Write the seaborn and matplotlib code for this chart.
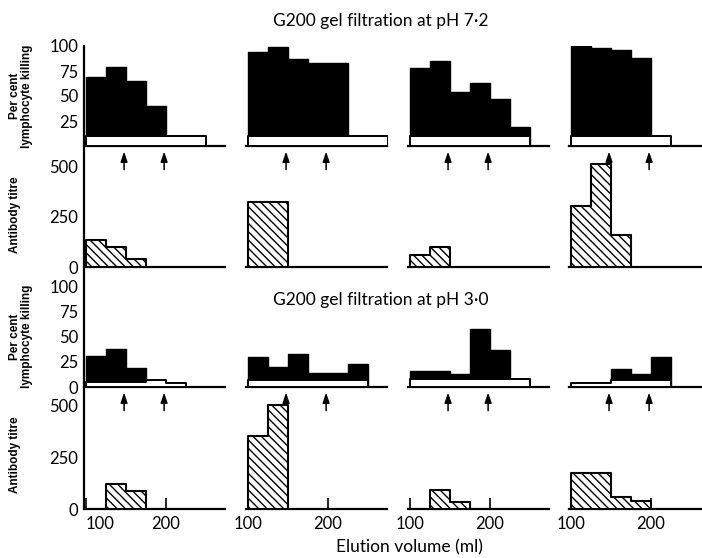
import numpy as np
import pandas as pd
import matplotlib
matplotlib.use('Agg')
import matplotlib.pyplot as plt
import seaborn as sns
from matplotlib.lines import Line2D

# 25 ml fractions, lower edge of each (ml)
fraction_start = [100, 125, 150, 175, 200, 225, 250]
fraction_width = 25

# pH 7.2 - per cent lymphocyte killing (black = total, white = base bar)
kill_72_black = [
    [69, 79, 65, 40, 0, 0, 0],
    [94, 99, 87, 83, 83, 0, 0],
    [78, 85, 54, 63, 47, 19, 0],
    [100, 98, 96, 88, 0, 0, 0],
]
kill_72_white = [
    [10, 10, 10, 10, 10, 10, 0],
    [10, 10, 10, 10, 10, 10, 10],
    [10, 10, 10, 10, 10, 10, 0],
    [10, 10, 10, 10, 10, 0, 0],
]
# pH 7.2 - antibody titre
titre_72 = [
    [135, 100, 40, 0, 0, 0, 0],
    [320, 320, 0, 0, 0, 0, 0],
    [60, 100, 0, 0, 0, 0, 0],
    [300, 510, 160, 0, 0, 0, 0],
]
# pH 3.0 - per cent lymphocyte killing
kill_30_black = [
    [31, 38, 19, 0, 0, 0, 0],
    [30, 20, 33, 14, 14, 23, 0],
    [16, 16, 13, 57, 37, 0, 0],
    [0, 0, 18, 13, 30, 0, 0],
]
kill_30_white = [
    [5, 5, 5, 7, 4, 0, 0],
    [7, 7, 7, 7, 7, 7, 0],
    [8, 8, 8, 8, 8, 8, 0],
    [4, 4, 7, 7, 7, 0, 0],
]
# pH 3.0 - antibody titre
titre_30 = [
    [0, 120, 87, 0, 0, 0, 0],
    [350, 500, 0, 0, 0, 0, 0],
    [0, 90, 35, 0, 0, 0, 0],
    [175, 175, 60, 40, 0, 0, 0],
]

arrow_ml = [148, 198]
x_ticks = [100, 200]
kill_ticks_72 = [25, 50, 75, 100]
kill_ticks_30 = [0, 25, 50, 75, 100]
titre_ticks = [0, 250, 500]

title_72 = 'G200 gel filtration at pH 7\u00b72'
title_30 = 'G200 gel filtration at pH 3\u00b70'
kill_label = 'Per cent\nlymphocyte killing'
titre_label = 'Antibody titre'
x_label = 'Elution volume (ml)'

# layout in pixels of the 702 x 558 figure
W, H = 702, 558
col_left = [84, 246, 408, 569]
col_width = 141
row_px = [(46, 146), (162, 267), (286, 387), (401, 509)]


def draw_hist(ax, values, **kws):
    values = np.asarray(values, dtype=float)
    starts = np.asarray(fraction_start, dtype=float)
    keep = values > 0
    if not keep.any():
        return
    lo = starts[keep].min()
    hi = starts[keep].max() + fraction_width
    df = pd.DataFrame({'ml': starts[keep] + fraction_width / 2, 'value': values[keep]})
    sns.histplot(data=df, x='ml', weights='value', binwidth=fraction_width,
                 binrange=(lo, hi), element='step', fill=True, alpha=1, ax=ax, **kws)


def main():
    sns.set_theme(style='white')
    plt.rcParams['font.family'] = ['Lato', 'DejaVu Sans']
    plt.rcParams['text.color'] = 'black'
    plt.rcParams['hatch.linewidth'] = 1.0

    fig = plt.figure(figsize=(W / 100, H / 100), dpi=100)

    axes = []
    for r, (top, bottom) in enumerate(row_px):
        row_axes = []
        for c, left in enumerate(col_left):
            ax = fig.add_axes([left / W, 1 - bottom / H, col_width / W, (bottom - top) / H])
            ax.set_facecolor('none')
            if r in (0, 2):
                black = kill_72_black if r == 0 else kill_30_black
                white = kill_72_white if r == 0 else kill_30_white
                draw_hist(ax, black[c], facecolor='black', edgecolor='black',
                          linewidth=1.0, zorder=2)
                draw_hist(ax, white[c], facecolor='white', edgecolor='black',
                          linewidth=1.4, zorder=3)
                ax.set_ylim(0, 100)
                ax.set_yticks(kill_ticks_72 if r == 0 else kill_ticks_30)
                for xm in arrow_ml:
                    ax.annotate('', xy=(xm, 0), xycoords=('data', 'axes fraction'),
                                xytext=(0, -17), textcoords='offset points',
                                arrowprops=dict(arrowstyle='-|>,head_length=0.5,head_width=0.17',
                                                color='black', lw=1.1,
                                                shrinkA=0, shrinkB=4),
                                annotation_clip=False)
            else:
                titre = titre_72 if r == 1 else titre_30
                draw_hist(ax, titre[c], facecolor='white', edgecolor='black',
                          hatch='\\\\\\\\', linewidth=1.5, zorder=3)
                ax.set_ylim(0, 520)
                ax.set_yticks(titre_ticks)

            ax.set_xlim(98, 274)
            ax.set_xlabel('')
            ax.set_ylabel('')
            for side in ('top', 'right', 'left'):
                ax.spines[side].set_visible(False)
            ax.spines['bottom'].set_linewidth(1.6)
            ax.spines['bottom'].set_color('black')

            if c == 0:
                ax.tick_params(axis='y', direction='in', length=9, width=1.2,
                               pad=4, labelsize=12, colors='black')
            else:
                ax.tick_params(axis='y', left=False, labelleft=False)

            if r == 3:
                ax.set_xticks(x_ticks)
                ax.tick_params(axis='x', direction='in', length=8, width=1.2,
                               pad=5, labelsize=12, colors='black', bottom=True)
                if c == 0:
                    # keep "100" clear of the titre "0"
                    ax.get_xticklabels()[0].set_horizontalalignment('left')
            else:
                ax.set_xticks([])
            row_axes.append(ax)
        axes.append(row_axes)

    # continuous left axis line for the first column
    p_top = axes[0][0].get_position()
    p_bot = axes[3][0].get_position()
    fig.add_artist(Line2D([p_top.x0, p_top.x0], [p_bot.y0, p_top.y1],
                          transform=fig.transFigure, color='black', lw=1.6))

    # row labels
    for r, label in enumerate([kill_label, titre_label, kill_label, titre_label]):
        pos = axes[r][0].get_position()
        x = 21 / W if r in (0, 2) else 15 / W
        fig.text(x, (pos.y0 + pos.y1) / 2, label, rotation=90, ha='center',
                 va='center', multialignment='center', fontsize=8.5,
                 fontweight='bold', family=['Liberation Sans', 'DejaVu Sans'],
                 linespacing=1.1)

    fig.text(381 / W, 1 - 21 / H, title_72, ha='center', va='center', fontsize=12.5)
    fig.text(381 / W, 1 - 300 / H, title_30, ha='center', va='center', fontsize=12.5)
    fig.text(409 / W, 1 - 547 / H, x_label, ha='center', va='center', fontsize=12.5)

    fig.savefig('out.png', dpi=100, facecolor='white')


if __name__ == '__main__':
    main()
